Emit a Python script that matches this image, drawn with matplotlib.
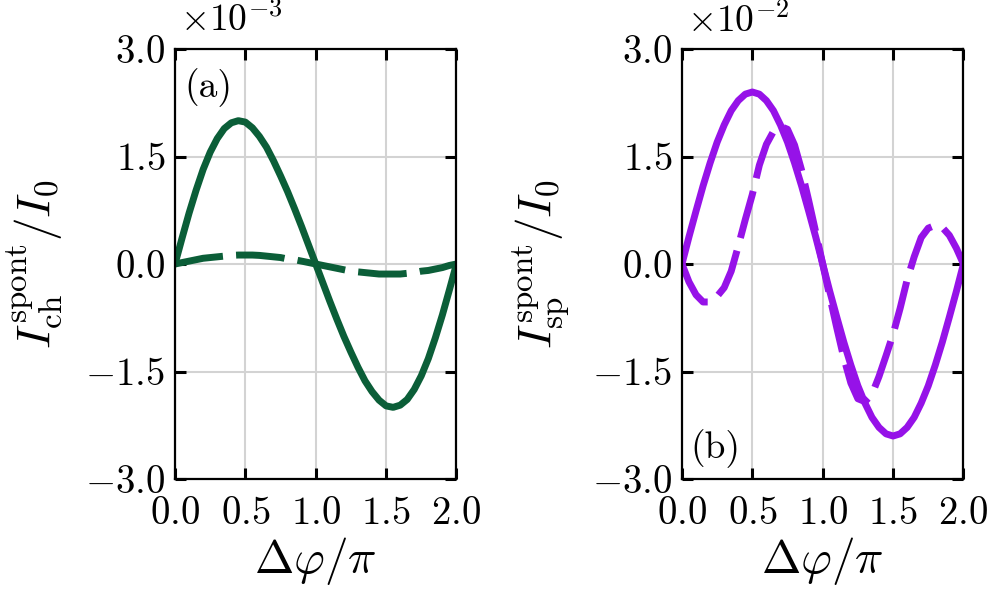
import numpy as np
import matplotlib
matplotlib.use("Agg")
import matplotlib.pyplot as plt
from matplotlib.ticker import FixedLocator, FuncFormatter

plt.rcParams["mathtext.fontset"] = "cm"
plt.rcParams["font.family"] = "serif"
plt.rcParams["font.serif"] = ["cmr10", "DejaVu Serif"]

# phase difference (units of pi)
dphi = [0.00, 0.05, 0.10, 0.15, 0.20, 0.25, 0.30, 0.35, 0.40, 0.45, 0.50,
        0.55, 0.60, 0.65, 0.70, 0.75, 0.80, 0.85, 0.90, 0.95, 1.00,
        1.05, 1.10, 1.15, 1.20, 1.25, 1.30, 1.35, 1.40, 1.45, 1.50,
        1.55, 1.60, 1.65, 1.70, 1.75, 1.80, 1.85, 1.90, 1.95, 2.00]

# panel (a): I_ch / I0, in units of 1e-3
ch_solid = [0.00, 0.36, 0.71, 1.03, 1.32, 1.56, 1.75, 1.89, 1.97, 2.00, 1.98,
            1.90, 1.78, 1.63, 1.44, 1.23, 1.01, 0.77, 0.52, 0.26, 0.00,
            -0.26, -0.52, -0.77, -1.01, -1.23, -1.44, -1.63, -1.78, -1.90, -1.98,
            -2.00, -1.97, -1.89, -1.75, -1.56, -1.32, -1.03, -0.71, -0.36, 0.00]
ch_dashed = [0.00, 0.02, 0.04, 0.06, 0.08, 0.09, 0.10, 0.11, 0.12, 0.125, 0.125,
             0.125, 0.12, 0.11, 0.10, 0.09, 0.07, 0.06, 0.04, 0.02, 0.00,
             -0.02, -0.04, -0.06, -0.08, -0.10, -0.11, -0.12, -0.13, -0.14, -0.14,
             -0.14, -0.14, -0.13, -0.12, -0.10, -0.09, -0.07, -0.05, -0.02, 0.00]

# panel (b): I_sp / I0, in units of 1e-2
sp_solid = [0.00, 0.38, 0.74, 1.09, 1.41, 1.70, 1.94, 2.14, 2.28, 2.37, 2.40,
            2.37, 2.28, 2.14, 1.94, 1.70, 1.41, 1.09, 0.74, 0.38, 0.00,
            -0.38, -0.74, -1.09, -1.41, -1.70, -1.94, -2.14, -2.28, -2.37, -2.40,
            -2.37, -2.28, -2.14, -1.94, -1.70, -1.41, -1.09, -0.74, -0.38, 0.00]
sp_dashed = [0.00, -0.25, -0.43, -0.53, -0.53, -0.45, -0.33, -0.10, 0.25, 0.62, 0.97,
             1.38, 1.67, 1.85, 1.92, 1.88, 1.66, 1.31, 0.89, 0.45, 0.00,
             -0.45, -0.89, -1.31, -1.66, -1.88, -1.92, -1.82, -1.57, -1.28, -0.98,
             -0.62, -0.22, 0.10, 0.37, 0.50, 0.54, 0.51, 0.40, 0.22, 0.00]

panels = [
    (ch_solid, ch_dashed, "#0b5e38", r"$I_{\mathrm{ch}}^{\mathrm{spont}}/I_0$",
     r"$\times10^{-3}$", "(a)", "top"),
    (sp_solid, sp_dashed, "#9612e8", r"$I_{\mathrm{sp}}^{\mathrm{spont}}/I_0$",
     r"$\times10^{-2}$", "(b)", "bottom"),
]

fig = plt.figure(figsize=(9.96, 5.94), dpi=100)
lefts = [0.1757, 0.6847]

for left, (solid, dashed, color, ylab, scale, tag, tagpos) in zip(lefts, panels):
    ax = fig.add_axes([left, 0.1936, 0.2826, 0.7239])
    ax.plot(dphi, solid, color=color, lw=5.0, solid_capstyle="round",
            solid_joinstyle="round")
    ax.plot(dphi, dashed, color=color, lw=5.0, dashes=(7.0, 1.9),
            dash_joinstyle="round")
    ax.set_xlim(0, 2)
    ax.set_ylim(-3, 3)
    ax.xaxis.set_major_locator(FixedLocator([0, 0.5, 1.0, 1.5, 2.0]))
    ax.yaxis.set_major_locator(FixedLocator([-3, -1.5, 0, 1.5, 3]))
    fmt = FuncFormatter(lambda v, p: rf"${v:.1f}$")
    ax.xaxis.set_major_formatter(fmt)
    ax.yaxis.set_major_formatter(fmt)
    ax.grid(True, color="#d3d3d3", lw=1.5)
    ax.set_axisbelow(True)
    ax.tick_params(direction="in", length=8, width=2.2, top=True, right=True,
                   labelsize=28)
    ax.tick_params(axis="x", pad=12)
    ax.tick_params(axis="y", pad=7)
    for sp in ax.spines.values():
        sp.set_linewidth(1.6)
    ax.set_xlabel(r"$\Delta\varphi/\pi$", fontsize=34)
    ax.xaxis.set_label_coords(0.5, -0.13)
    ax.set_ylabel(ylab, fontsize=34)
    ax.yaxis.set_label_coords(-0.39, 0.5)
    ax.text(0.018, 1.025, scale, transform=ax.transAxes, ha="left",
            va="bottom", fontsize=27)
    if tagpos == "top":
        ax.text(0.035, 0.955, tag, transform=ax.transAxes, ha="left",
                va="top", fontsize=27)
    else:
        ax.text(0.03, 0.025, tag, transform=ax.transAxes, ha="left",
                va="bottom", fontsize=27)

fig.savefig("out.png", dpi=100)
